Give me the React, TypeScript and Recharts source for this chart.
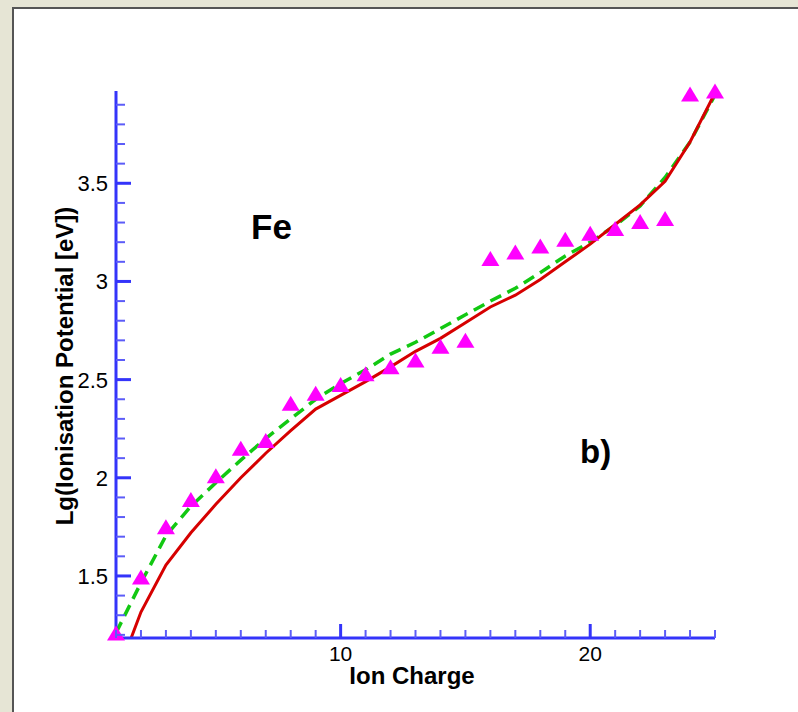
import { ComposedChart, Line, Scatter, XAxis, YAxis } from "recharts";

// ion charge of Fe
const charges = [1, 2, 3, 4, 5, 6, 7, 8, 9, 10, 11, 12, 13, 14, 15, 16, 17, 18, 19, 20, 21, 22, 23, 24, 25];

// lg of ionisation potential, measured
const measured = [1.21, 1.495, 1.75, 1.89, 2.01, 2.15, 2.19, 2.38, 2.43, 2.475, 2.53, 2.565, 2.6, 2.67, 2.7,
  3.117, 3.15, 3.18, 3.215, 3.245, 3.27, 3.305, 3.32, 3.955, 3.97];

// model curve (solid red)
const model = [0.98, 1.316, 1.556, 1.72, 1.865, 2.0, 2.125, 2.24, 2.35, 2.42, 2.49, 2.565, 2.644, 2.71, 2.79,
  2.87, 2.93, 3.01, 3.1, 3.19, 3.29, 3.39, 3.51, 3.71, 3.96];

// fitted curve (dashed green)
const fit = [1.21, 1.465, 1.705, 1.855, 1.975, 2.09, 2.2, 2.3, 2.4, 2.48, 2.55, 2.63, 2.69, 2.76, 2.83,
  2.9, 2.965, 3.045, 3.13, 3.2, 3.285, 3.385, 3.53, 3.71, 3.95];

const yTicks = [1.2, 1.3, 1.4, 1.5, 1.6, 1.7, 1.8, 1.9, 2.0, 2.1, 2.2, 2.3, 2.4, 2.5, 2.6, 2.7, 2.8, 2.9,
  3.0, 3.1, 3.2, 3.3, 3.4, 3.5, 3.6, 3.7, 3.8, 3.9];
const yLabels = [1.5, 2, 2.5, 3, 3.5];
const xTicks = charges;
const xLabels = [10, 20];

const yDomain = [1.184, 3.97];

const data = charges.map((c, i) => ({ charge: c, measured: measured[i], model: model[i], fit: fit[i] }));

const BLUE = "#3434fa";
const MINOR = "#5c5cf8";
const FONT = "'Liberation Sans', Arial, Helvetica, sans-serif";

const isLabel = (list: number[], v: number) => list.some((l) => Math.abs(l - v) < 1e-6);

const YTick = (props: any) => {
  const { x, y, payload } = props;
  const major = isLabel(yLabels, payload.value);
  return (
    <g>
      <line x1={x} x2={x + (major ? 15 : 9)} y1={y} y2={y} stroke={major ? BLUE : MINOR} strokeWidth={major ? 3 : 2} />
      {major && (
        <text x={x - 8} y={y + 8} textAnchor="end" fontSize={22} fontFamily={FONT} fill="#000">
          {String(payload.value)}
        </text>
      )}
    </g>
  );
};

const XTick = (props: any) => {
  const { x, y, payload } = props;
  const major = isLabel(xLabels, payload.value);
  return (
    <g>
      <line x1={x} x2={x} y1={y} y2={y - (major ? 14 : 8)} stroke={major ? BLUE : MINOR} strokeWidth={major ? 3 : 2} />
      {major && (
        <text x={x} y={y + 23} textAnchor="middle" fontSize={21} fontFamily={FONT} fill="#000">
          {String(payload.value)}
        </text>
      )}
    </g>
  );
};

const Triangle = (props: any) => {
  const { cx, cy } = props;
  if (cx == null || cy == null) return null;
  return <polygon points={`${cx},${cy - 7.5} ${cx + 9},${cy + 7.5} ${cx - 9},${cy + 7.5}`} fill="#ff00ff" />;
};

export default function App() {
  return (
    <div style={{ position: "absolute", left: 0, top: 0, width: 798, height: 712, background: "#e6e5d5", overflow: "hidden" }}>
      <div
        style={{
          position: "absolute",
          left: 12,
          top: 7,
          width: 786,
          height: 705,
          background: "#fff",
          borderLeft: "2px solid #555",
          borderTop: "2px solid #555",
        }}
      />
      <div style={{ position: "absolute", left: 0, top: 0 }}>
        <ComposedChart width={798} height={712} data={data} margin={{ top: 91, right: 83, bottom: 73, left: 115 }}>
          <XAxis
            dataKey="charge"
            type="number"
            domain={[1, 25]}
            ticks={xTicks}
            interval={0}
            height={1}
            tickSize={0}
            tickMargin={0}
            tickLine={false}
            tick={<XTick />}
            axisLine={{ stroke: BLUE, strokeWidth: 3 }}
          />
          <YAxis
            type="number"
            domain={yDomain}
            allowDataOverflow
            ticks={yTicks}
            interval={0}
            width={1}
            tickSize={0}
            tickMargin={0}
            tickLine={false}
            tick={<YTick />}
            axisLine={{ stroke: BLUE, strokeWidth: 3 }}
          />
          <YAxis yAxisId="pts" type="number" domain={yDomain} hide />
          <Scatter yAxisId="pts" dataKey="measured" shape={Triangle} isAnimationActive={false} />
          <Line
            dataKey="fit"
            type="linear"
            stroke="#12c812"
            strokeWidth={3.5}
            strokeDasharray="12 7"
            dot={false}
            activeDot={false}
            isAnimationActive={false}
          />
          <Line
            dataKey="model"
            type="linear"
            stroke="#d60000"
            strokeWidth={3}
            dot={false}
            activeDot={false}
            isAnimationActive={false}
          />
        </ComposedChart>
      </div>
      <svg width={798} height={712} style={{ position: "absolute", left: 0, top: 0, pointerEvents: "none" }}>
        <text x={251} y={239} fontSize={35} fontWeight="bold" fontFamily={FONT} fill="#000">
          Fe
        </text>
        <text x={580} y={463} fontSize={33} fontWeight="bold" fontFamily={FONT} fill="#000">
          b)
        </text>
        <text x={412} y={684} textAnchor="middle" fontSize={24} fontWeight="bold" fontFamily={FONT} fill="#000">
          Ion Charge
        </text>
        <text
          transform="translate(73,366) rotate(-90)"
          textAnchor="middle"
          fontSize={24}
          fontWeight="bold"
          fontFamily={FONT}
          fill="#000"
        >
          Lg(Ionisation Potential [eV])
        </text>
      </svg>
    </div>
  );
}
